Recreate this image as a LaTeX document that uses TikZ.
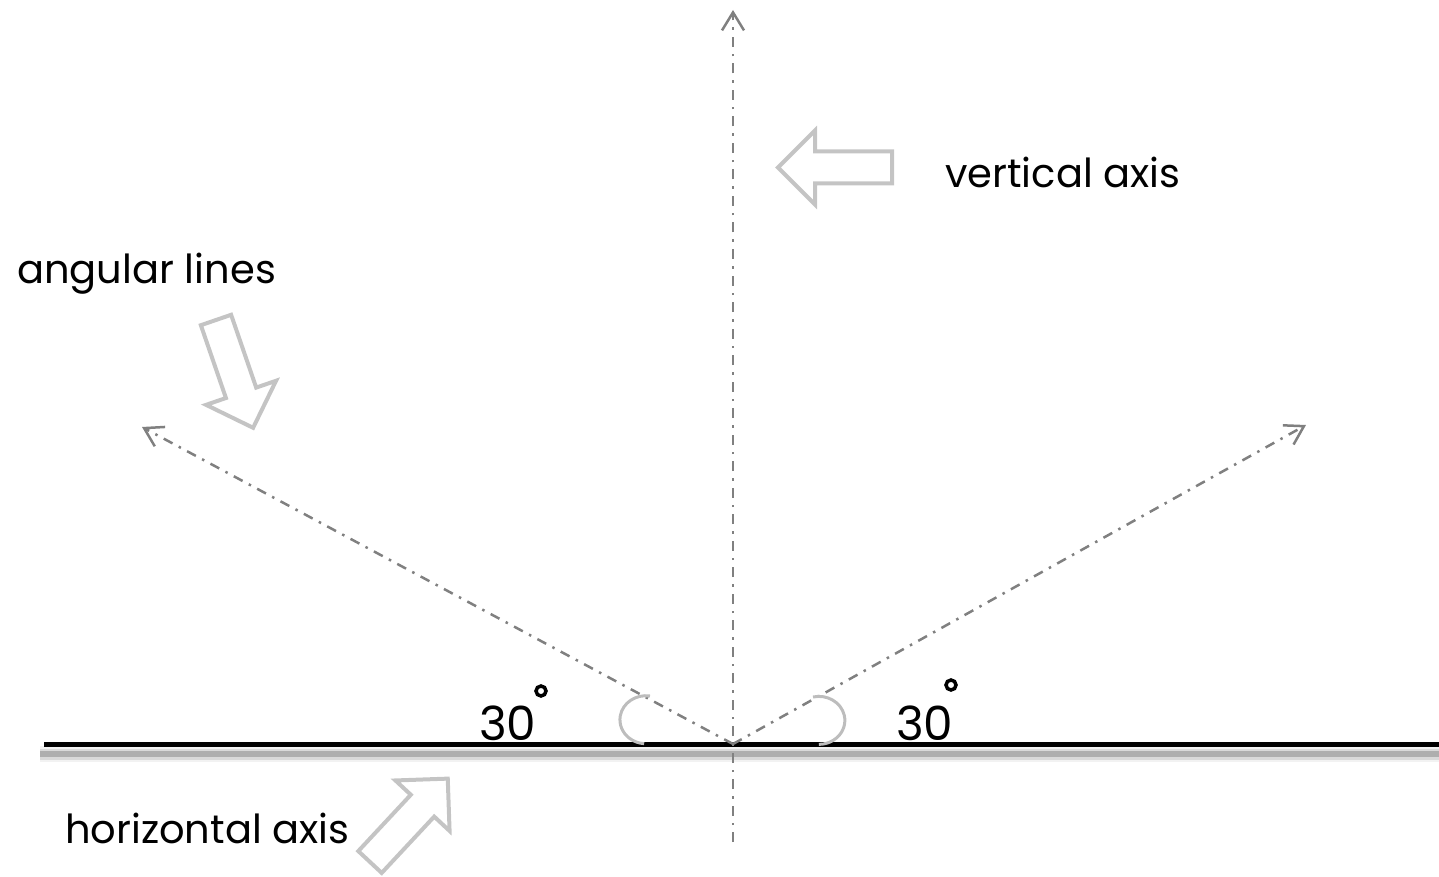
\documentclass[tikz,border=0pt]{standalone}
\usepackage{fontspec}
\setmainfont{Poppins}
\usepackage{tikz}
\usetikzlibrary{arrows.meta}
\usetikzlibrary{positioning}

\definecolor{axisgray}{HTML}{808080}
\definecolor{hollowgray}{HTML}{C4C4C4}
\definecolor{arcgray}{HTML}{BDBDBD}

% hollow block arrow: tail centre, rotation
\newcommand{\hollowarrow}[3]{%
  \draw[hollow,shift={(#1,#2)},rotate=#3]
    (0,-16) -- (77,-16) -- (77,-37) -- (114,0) -- (77,37) -- (77,16) -- (0,16) -- cycle;}

\begin{document}
\begin{tikzpicture}[x=1pt,y=-1pt]
	 \tikzstyle{label}=[inner sep=0pt,font=\fontsize{40}{46}\selectfont]
	 \tikzstyle{number}=[inner sep=0pt,font=\fontsize{47}{52}\selectfont]
	 \tikzstyle{axis}=[draw,axisgray,line width=2.5pt,dash pattern=on 10pt off 7pt on 2.5pt off 7pt,-{Straight Barb[length=18pt,width=22pt,line width=2.5pt]}]
	 \tikzstyle{hollow}=[draw,hollowgray,line width=4pt,line join=miter]
	 \tikzstyle{anglearc}=[draw,arcgray,line width=3pt]
	 \tikzstyle{degree}=[draw,black,line width=3.5pt]
	 \useasboundingbox (0,0) rectangle (1439,877);

	 \coordinate (O) at (733,744);
	 \coordinate (vbot) at (733,842);
	 \coordinate (vtop) at (733,10);
	 \coordinate (lend) at (142,427);
	 \coordinate (rend) at (1306,425);
	 \coordinate (hleft) at (44,744);
	 \coordinate (hright) at (1439,744);

	 \foreach \w/\o in {16/0.05, 11/0.1, 6/0.2}
	 	\draw[black,opacity=\o,line width=\w pt] (40,754) -- (1439,754);
	 \draw[black,line width=5pt] (hleft) -- (hright);

	 \draw[axis] (vbot) -- (vtop);
	 \draw[axis] (O) -- (lend);
	 \draw[axis] (O) -- (rend);

	 \draw[anglearc] (650,696) arc[start angle=279,end angle=94,x radius=26,y radius=24];
	 \draw[anglearc] (813,697) arc[start angle=-103,end angle=90,x radius=26,y radius=24];

	 \node[label,anchor=base west] (vlabel) at (945,188) {vertical axis};
	 \node[label,anchor=base west] (alabel) at (17,283) {angular lines};
	 \node[label,anchor=base west] (hlabel) at (65,843) {horizontal axis};
	 \node[number,anchor=base west] (leftdeg) at (479,740) {30};
	 \node[number,anchor=base west] (rightdeg) at (896,740) {30};
	 \draw[degree] (541,691) circle (5);
	 \draw[degree] (951,685) circle (5);

	 \hollowarrow{892}{167.5}{180}
	 \hollowarrow{216}{320}{-71}
	 \hollowarrow{370}{862}{47}
	 %\node at (733,870) {O};
\end{tikzpicture}
\end{document}
